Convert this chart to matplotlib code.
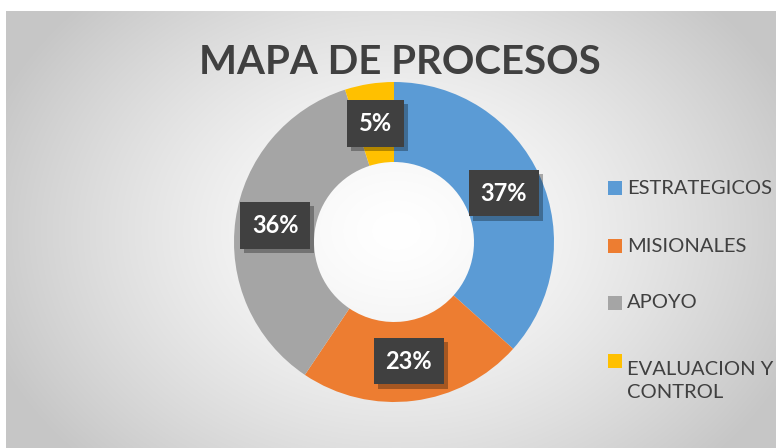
import numpy as np
import matplotlib
matplotlib.use("Agg")
import matplotlib.pyplot as plt
import matplotlib.patheffects as pe
from matplotlib.patches import Rectangle

# datos del grafico
categorias = ["ESTRATEGICOS", "MISIONALES", "APOYO", "EVALUACION Y\nCONTROL"]
valores = [37, 23, 36, 5]
etiquetas = ["37%", "23%", "36%", "5%"]
colores = ["#5B9BD5", "#ED7D31", "#A5A5A5", "#FFC000"]

plt.rcParams['font.family'] = ['Lato', 'DejaVu Sans']

W, H = 776, 448
fig = plt.figure(figsize=(W / 100, H / 100), dpi=100)
fig.patch.set_facecolor("white")

# fondo con degradado radial
bg = fig.add_axes([6 / W, 0, (W - 6) / W, (H - 11) / H])
yy, xx = np.mgrid[0:437, 0:770]
cx, cy = 390, 220
d = np.sqrt(((xx - cx) / 430.0) ** 2 + ((yy - cy) / 330.0) ** 2)
d = np.clip(d, 0, 1)
g = 1.0 - 0.22 * d ** 1.4
bg.imshow(np.dstack([g, g, g]), aspect="auto", extent=[0, 1, 0, 1])
bg.set_axis_off()

# grafico de anillo
ax = fig.add_axes([(394 - 165) / W, (H - 242 - 165) / H, 330 / W, 330 / H])
wedges, _ = ax.pie(valores, colors=colores, startangle=90, counterclock=False,
                   radius=160 / 165, wedgeprops=dict(width=80 / 165, edgecolor="none"))
ax.set_xlim(-1, 1)
ax.set_ylim(-1, 1)
ax.set_aspect("equal")
ax.set_axis_off()

# etiquetas de porcentaje
r_mid = 120 / 165
for w, txt in zip(wedges, etiquetas):
    ang = np.deg2rad((w.theta1 + w.theta2) / 2)
    x, y = r_mid * np.cos(ang), r_mid * np.sin(ang)
    t = ax.text(x, y, txt, ha="center", va="center", fontsize=17, fontweight="bold",
                color="white", bbox=dict(boxstyle="square,pad=0.5", facecolor="#404040",
                                         edgecolor="none"))
    t.get_bbox_patch().set_path_effects([
        pe.SimplePatchShadow(offset=(3, -3), shadow_rgbFace="black", alpha=0.3),
        pe.Normal()])

# titulo
fig.text(400 / W, 1 - 62 / H, "MAPA DE PROCESOS", ha="center", va="center",
         fontsize=29, fontweight="bold", color="#404040")

# leyenda
leg_y = [188, 246, 303, 361]
for cat, col, yv in zip(categorias, colores, leg_y):
    fig.patches.append(Rectangle((608 / W, 1 - (yv + 7) / H), 14 / W, 14 / H,
                                 transform=fig.transFigure, facecolor=col, edgecolor="none"))
    fig.text(627 / W, 1 - yv / H, cat, ha="left", va="top" if "\n" in cat else "center",
             fontsize=14.5, color="#404040", linespacing=1.4,
             transform=fig.transFigure)

fig.savefig("out.png", dpi=100)
